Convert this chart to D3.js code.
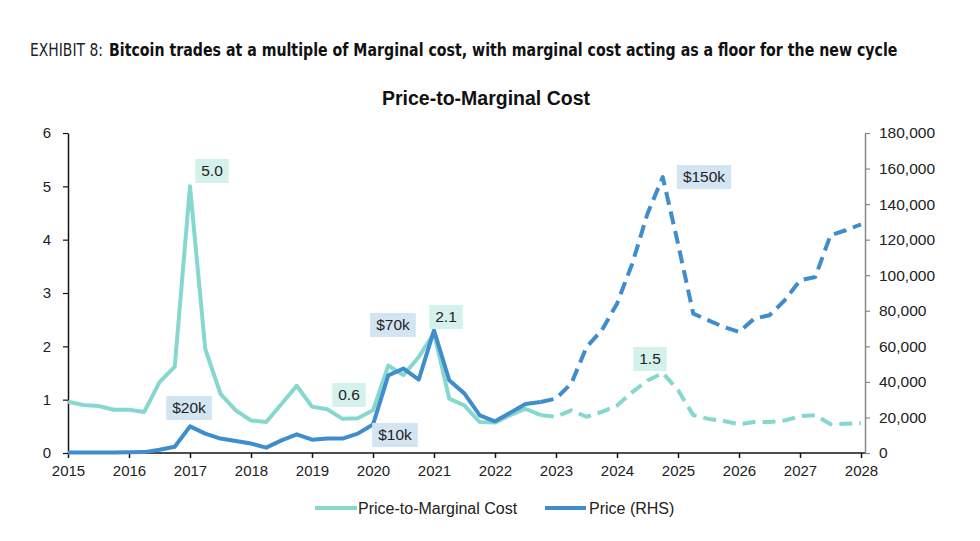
<!DOCTYPE html>
<html><head><meta charset="utf-8">
<script src="https://cdn.jsdelivr.net/npm/d3@7"></script>
<style>
body{margin:0;background:#fff;}
text{font-family:"Liberation Sans",Arial,sans-serif;}
</style></head>
<body><svg id="chart" width="980" height="541"></svg>
<script>
const quarters = [2015.00,2015.25,2015.50,2015.75,2016.00,2016.25,2016.50,2016.75,2017.00,2017.25,2017.50,2017.75,2018.00,2018.25,2018.50,2018.75,2019.00,2019.25,2019.50,2019.75,2020.00,2020.25,2020.50,2020.75,2021.00,2021.25,2021.50,2021.75,2022.00,2022.25,2022.50,2022.75,2023.00,2023.25,2023.50,2023.75,2024.00,2024.25,2024.50,2024.75,2025.00,2025.25,2025.50,2025.75,2026.00,2026.25,2026.50,2026.75,2027.00,2027.25,2027.50,2027.75,2028.00];
const ratio = [0.96,0.90,0.88,0.81,0.81,0.77,1.33,1.62,5.0,1.95,1.11,0.80,0.61,0.58,0.92,1.26,0.87,0.82,0.64,0.65,0.80,1.64,1.46,1.80,2.25,1.02,0.89,0.58,0.57,0.71,0.83,0.71,0.68,0.80,0.68,0.77,0.89,1.14,1.36,1.50,1.18,0.71,0.64,0.60,0.54,0.58,0.58,0.61,0.69,0.71,0.54,0.55,0.56];
const price = [300,250,250,350,400,500,1800,3500,15000,10900,8100,6800,5300,3000,7100,10500,7500,8100,8100,10900,16000,43700,47500,41300,69000,40900,33400,21200,17800,22600,27600,28700,30600,39000,59600,69000,84000,106500,134600,155200,117800,78400,74600,70900,68100,75600,77500,85900,97100,99000,122500,125300,128600];
const forecastStart = 2022.75;
const yearTicks = [2015,2016,2017,2018,2019,2020,2021,2022,2023,2024,2025,2026,2027,2028];
const leftTicks = [0,1,2,3,4,5,6];
const rightTicks = [0,20000,40000,60000,80000,100000,120000,140000,160000,180000];
const ratioLabels = [{t:2017.0, v:5.0, text:"5.0"},{t:2019.5, v:0.6, text:"0.6"},{t:2021.0, v:2.1, text:"2.1"},{t:2024.75, v:1.5, text:"1.5"}];
const priceLabels = [{t:2017.0, v:20000, text:"$20k"},{t:2020.0, v:10000, text:"$10k"},{t:2020.25, v:70000, text:"$70k"},{t:2024.75, v:150000, text:"$150k"}];

const svg = d3.select("#chart");
const teal = "#86d8ce", blue = "#3f8dcc";
const x = d3.scaleLinear().domain([2015,2028]).range([68,861]);
const yL = d3.scaleLinear().domain([0,6]).range([453,133]);
const yR = d3.scaleLinear().domain([0,180000]).range([453,133]);

// Titles (fit to width with a horizontal scale transform)
const narrow = "'Liberation Sans Narrow','DejaVu Sans Condensed','Open Sans',sans-serif";
function fitText(x0, y0, width, txt, weight, fill){
  const t = svg.append("text").attr("x",0).attr("y",0).attr("font-size",18).style("font-family",narrow)
    .attr("font-weight",weight).attr("fill",fill).text(txt);
  const w = t.node().getComputedTextLength();
  t.attr("transform",`translate(${x0},${y0}) scale(${width/w},1)`);
}
fitText(30, 56, 73, "EXHIBIT 8:", "300", "#222");
fitText(109, 56, 789, "Bitcoin trades at a multiple of Marginal cost, with marginal cost acting as a floor for the new cycle", "bold", "#111");
svg.append("text").attr("x",486).attr("y",105).attr("text-anchor","middle").attr("font-size",19.5).attr("font-weight","bold").attr("fill","#111").text("Price-to-Marginal Cost");

// Axes
const gx = svg.append("g").attr("transform","translate(0,453)")
  .call(d3.axisBottom(x).tickValues(yearTicks).tickFormat(d3.format("d")).tickSize(5).tickSizeOuter(0));
gx.selectAll("text").attr("font-size",15).attr("fill","#222").attr("dy","1.0em");
gx.select(".domain").attr("stroke","#111").attr("stroke-width",1.5).attr("d","M68,0H865");
gx.selectAll(".tick line").attr("stroke","#111").attr("stroke-width",1.5);

const gl = svg.append("g").attr("transform","translate(68,0)")
  .call(d3.axisLeft(yL).tickValues(leftTicks).tickFormat(d3.format("d")).tickSize(5).tickSizeOuter(0));
gl.selectAll("text").attr("font-size",15).attr("fill","#222").attr("x",-17);
gl.select(".domain").attr("stroke","#111").attr("stroke-width",1.5);
gl.selectAll(".tick line").attr("stroke","#111").attr("stroke-width",1.2);

const gr = svg.append("g").attr("transform","translate(865,0)")
  .call(d3.axisRight(yR).tickValues(rightTicks).tickFormat(d3.format(",")).tickSize(5).tickSizeOuter(0));
gr.selectAll("text").attr("font-size",15.5).attr("fill","#222").attr("x",14);
gr.select(".domain").attr("stroke","#888").attr("stroke-width",1.5);
gr.selectAll(".tick line").attr("stroke","#888").attr("stroke-width",1.2);

// Lines
const idx = d3.range(quarters.length);
const split = quarters.indexOf(forecastStart);
const lineL = d3.line().x(i=>x(quarters[i])).y(i=>yL(ratio[i]));
const lineR = d3.line().x(i=>x(quarters[i])).y(i=>yR(price[i]));
const histIdx = idx.filter(i=>i<=split), fcIdx = idx.filter(i=>i>=split);
function draw(gen, data, color, dashed){
  svg.append("path").datum(data).attr("d",gen).attr("fill","none").attr("stroke",color)
    .attr("stroke-width",4).attr("stroke-linejoin","round").attr("stroke-linecap","butt")
    .attr("stroke-dasharray", dashed ? "13,7" : null);
}
draw(lineL, histIdx, teal, false);
draw(lineL, fcIdx, teal, true);
draw(lineR, histIdx, blue, false);
draw(lineR, fcIdx, blue, true);

// Labels
function box(cx, cy, text, fill){
  const g = svg.append("g");
  const tx = g.append("text").attr("x",cx).attr("y",cy+5).attr("text-anchor","middle").attr("font-size",15.5).attr("fill","#222").text(text);
  const w = tx.node().getComputedTextLength();
  g.insert("rect","text").attr("x",cx-w/2-6).attr("y",cy-12).attr("width",w+12).attr("height",24).attr("fill",fill);
}
const boxPos = {"5.0":[212,171],"0.6":[349,395],"2.1":[446,317],"1.5":[650,359]};
const boxPosP = {"$20k":[189,408],"$10k":[395,435],"$70k":[393,325],"$150k":[704,177]};
ratioLabels.forEach(d=>{ const p = boxPos[d.text]; box(p[0], p[1], d.text, "#d5f1ec"); });
priceLabels.forEach(d=>{ const p = boxPosP[d.text]; box(p[0], p[1], d.text, "#d3e5f3"); });

// Legend
const lg = svg.append("g");
lg.append("line").attr("x1",315).attr("x2",357).attr("y1",508).attr("y2",508).attr("stroke",teal).attr("stroke-width",4);
lg.append("text").attr("x",358).attr("y",514).attr("font-size",16).attr("fill","#222").text("Price-to-Marginal Cost");
lg.append("line").attr("x1",545).attr("x2",586).attr("y1",508).attr("y2",508).attr("stroke",blue).attr("stroke-width",4);
lg.append("text").attr("x",589).attr("y",514).attr("font-size",16).attr("fill","#222").text("Price (RHS)");
</script></body></html>
